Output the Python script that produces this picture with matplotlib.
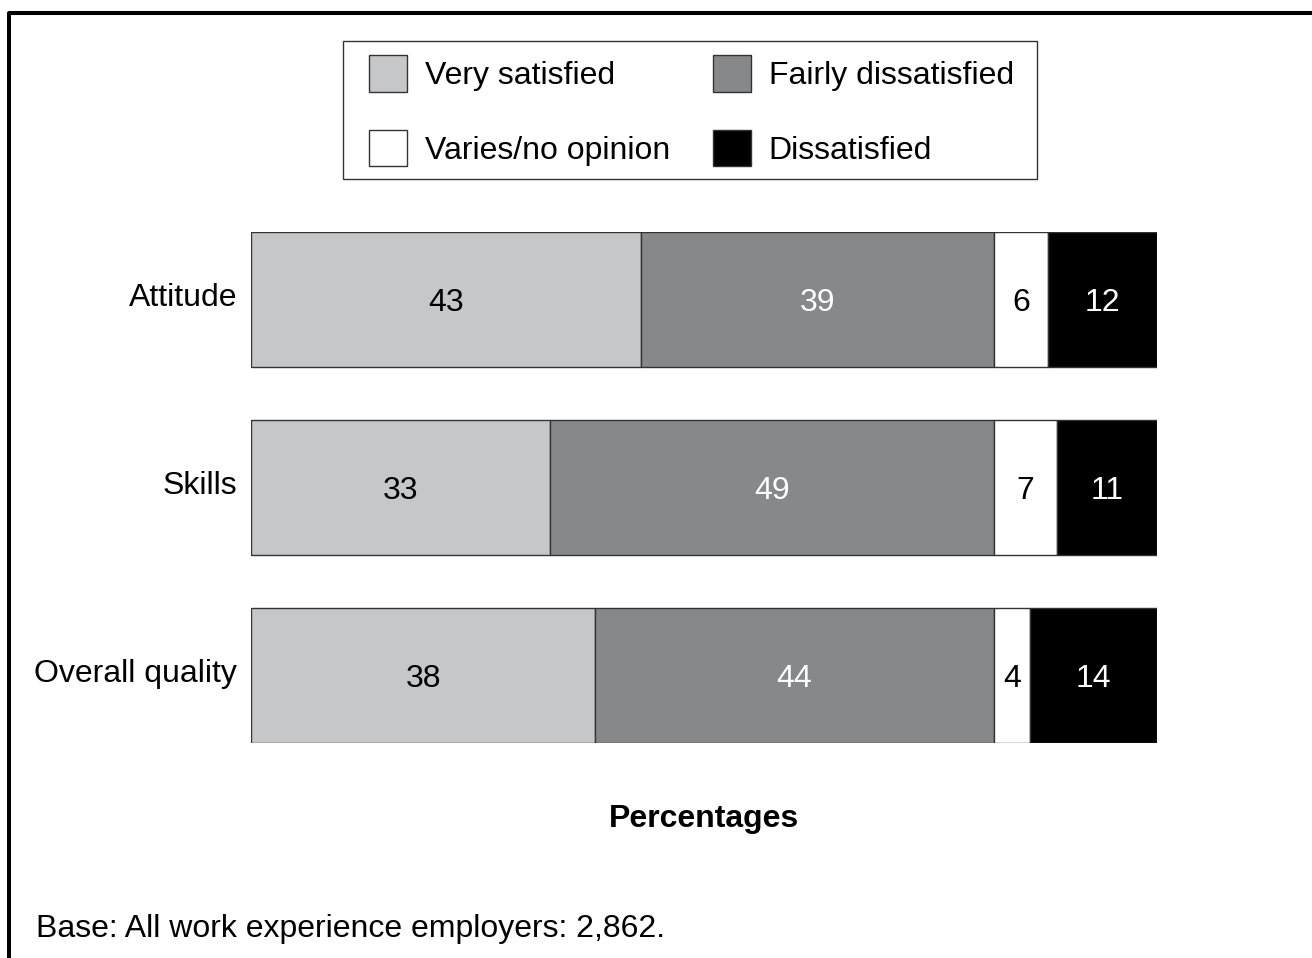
import matplotlib
matplotlib.use('Agg')
import matplotlib.pyplot as plt
from matplotlib.lines import Line2D
from matplotlib.patches import Rectangle
from matplotlib.transforms import ScaledTranslation

plt.rcParams['font.family'] = ['Liberation Sans', 'DejaVu Sans']

categories = ['Attitude', 'Skills', 'Overall quality']
very_satisfied = [43, 33, 38]
fairly_dissatisfied = [39, 49, 44]
varies = [6, 7, 4]
dissatisfied = [12, 11, 14]

series = [
    ('Very satisfied', very_satisfied, '#c6c7c9', 'black'),
    ('Fairly dissatisfied', fairly_dissatisfied, '#87888a', 'white'),
    ('Varies/no opinion', varies, 'white', 'black'),
    ('Dissatisfied', dissatisfied, 'black', 'white'),
]

FS = 23
W, H = 1312, 958
fig = plt.figure(figsize=(W / 100, H / 100), dpi=100)
ax = fig.add_axes([251 / W, 1 - 743 / H, (1157 - 251) / W, (743 - 232) / H])

ypos = list(range(len(categories)))
bar_h = 0.718
left = [0] * len(categories)
handles = {}
for name, vals, col, tcol in series:
    bars = ax.barh(ypos, vals, left=left, height=bar_h, color=col,
                   edgecolor='#333333', linewidth=1, label=name)
    handles[name] = bars
    for y, v, l in zip(ypos, vals, left):
        ax.text(l + v / 2, y, str(v), ha='center', va='center_baseline',
                fontsize=FS, color=tcol)
    left = [a + b for a, b in zip(left, vals)]

ax.set_xlim(0, 100)
ax.set_ylim(len(categories) - 1 + bar_h / 2, -bar_h / 2)
ax.set_yticks(ypos)
ax.set_yticklabels(categories, fontsize=FS)
ax.tick_params(axis='y', length=0, pad=10)
shift = ScaledTranslation(0, 5 / 100, fig.dpi_scale_trans)
for t in ax.get_yticklabels():
    t.set_transform(t.get_transform() + shift)
ax.set_xticks([])
for s in ax.spines.values():
    s.set_visible(False)

order = ['Very satisfied', 'Varies/no opinion', 'Fairly dissatisfied', 'Dissatisfied']
leg = fig.legend([handles[k] for k in order], order, ncol=2,
                 loc='upper left', bbox_to_anchor=(369 / W, 1 - 55 / H),
                 fontsize=FS, frameon=False,
                 handlelength=1.19, handleheight=1.4, handletextpad=0.56,
                 columnspacing=1.34, labelspacing=1.18, borderpad=0,
                 borderaxespad=0)
fig.add_artist(Rectangle((343 / W, 1 - 179 / H), (1037 - 343) / W, (179 - 41) / H,
                         transform=fig.transFigure, fill=False,
                         edgecolor='#333333', linewidth=1))

fig.text(704 / W, 1 - 819 / H, 'Percentages', ha='center', va='center',
         fontsize=FS, fontweight='bold')
fig.text(36 / W, 1 - 929 / H, 'Base: All work experience employers: 2,862.',
         ha='left', va='center', fontsize=FS)

# frame around the figure (left and top edges visible)
fig.add_artist(Line2D([9 / W, 9 / W, 1.0], [0, 1 - 13 / H, 1 - 13 / H],
                      color='black', linewidth=2.9, transform=fig.transFigure))

fig.savefig('out.png', dpi=100, facecolor='white')
